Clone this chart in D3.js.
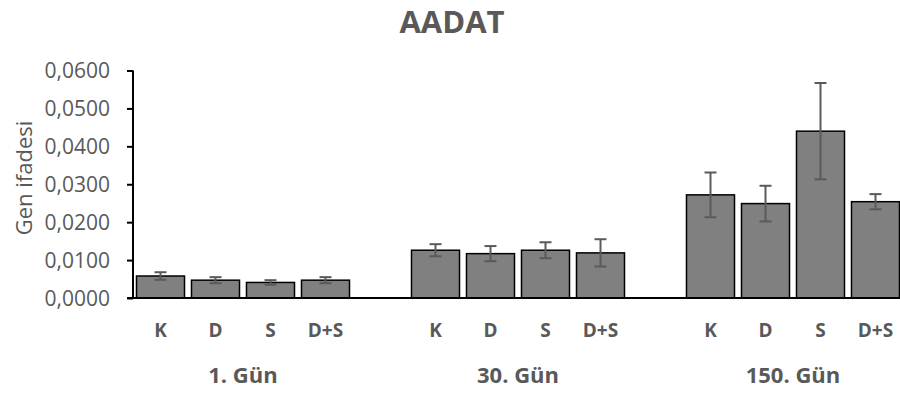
<!DOCTYPE html>
<html>
<head>
<meta charset="utf-8">
<script src="https://cdn.jsdelivr.net/npm/d3@7"></script>
<style>
  body { margin: 0; background: #fff; }
  text { font-family: "Open Sans", sans-serif; fill: #595959; }
</style>
</head>
<body>
<div id="chart"></div>
<script>
// data
var groups = ["1. Gün", "30. Gün", "150. Gün"];
var treatments = ["K", "D", "S", "D+S"];
var means = [
    [0.0058, 0.0047, 0.0041, 0.0047],
    [0.0126, 0.0117, 0.0126, 0.0119],
    [0.0272, 0.0249, 0.0440, 0.0254]
];
var errors = [
    [0.0010, 0.0008, 0.0006, 0.0008],
    [0.0016, 0.0020, 0.0021, 0.0036],
    [0.0059, 0.0047, 0.0127, 0.0020]
];
var yTicks = [0, 0.01, 0.02, 0.03, 0.04, 0.05, 0.06];

var svgWidth = 900, svgHeight = 394;
var margin = {top: 70.5, right: -3, bottom: 96, left: 133};
var width = svgWidth - margin.left - margin.right;
var height = svgHeight - margin.top - margin.bottom;

var svg = d3.select("#chart").append("svg")
    .attr("width", svgWidth)
    .attr("height", svgHeight)
    .style("display", "block");

var chartGroup = svg.append("g")
    .attr("transform", `translate(${margin.left}, ${margin.top})`);

// flatten into slots, one empty slot between groups (like Excel blank rows)
var rows = [];
groups.forEach((g, gi) => {
    treatments.forEach((t, ti) => {
        rows.push({slot: gi * 5 + ti, group: g, gi: gi, label: t,
                   value: means[gi][ti], err: errors[gi][ti]});
    });
});
var slots = d3.range(14);

var xScale = d3.scaleBand()
    .domain(slots)
    .range([0, width])
    .paddingInner(0.127)
    .paddingOuter(0.0635);
var yScale = d3.scaleLinear()
    .domain([0, 0.06])
    .range([height, 0]);

// y axis
var leftAxis = d3.axisLeft(yScale)
    .tickValues(yTicks)
    .tickSize(6)
    .tickPadding(17)
    .tickFormat(d => d3.format(".4f")(d).replace(".", ","));
var yAxisG = chartGroup.append("g").call(leftAxis);
yAxisG.select(".domain").remove();
yAxisG.append("line")
    .attr("x1", 0).attr("x2", 0)
    .attr("y1", 0).attr("y2", height)
    .attr("stroke", "#000").attr("stroke-width", 2);
yAxisG.selectAll(".tick line").attr("stroke", "#000").attr("stroke-width", 2);
yAxisG.selectAll(".tick text")
    .style("font-size", "21px")
    .attr("dy", "0.35em")
    .attr("fill", "#595959");

// bars
chartGroup.selectAll("rect.bar")
    .data(rows)
    .enter()
    .append("rect")
    .attr("class", "bar")
    .attr("x", d => xScale(d.slot))
    .attr("y", d => yScale(d.value))
    .attr("width", xScale.bandwidth())
    .attr("height", d => height - yScale(d.value))
    .attr("fill", "#808080")
    .attr("stroke", "#000")
    .attr("stroke-width", 1.5);

// error bars
var errG = chartGroup.selectAll("g.err")
    .data(rows)
    .enter()
    .append("g")
    .attr("class", "err")
    .attr("stroke", "#5a5a5a")
    .attr("stroke-width", 2);
errG.append("line")
    .attr("x1", d => xScale(d.slot) + xScale.bandwidth() / 2)
    .attr("x2", d => xScale(d.slot) + xScale.bandwidth() / 2)
    .attr("y1", d => yScale(d.value + d.err))
    .attr("y2", d => yScale(d.value - d.err));
errG.append("line")
    .attr("x1", d => xScale(d.slot) + xScale.bandwidth() / 2 - 6)
    .attr("x2", d => xScale(d.slot) + xScale.bandwidth() / 2 + 6)
    .attr("y1", d => yScale(d.value + d.err))
    .attr("y2", d => yScale(d.value + d.err));
errG.append("line")
    .attr("x1", d => xScale(d.slot) + xScale.bandwidth() / 2 - 6)
    .attr("x2", d => xScale(d.slot) + xScale.bandwidth() / 2 + 6)
    .attr("y1", d => yScale(d.value - d.err))
    .attr("y2", d => yScale(d.value - d.err));

// x axis line (extends to the left tick)
chartGroup.append("line")
    .attr("x1", -6).attr("x2", width)
    .attr("y1", height).attr("y2", height)
    .attr("stroke", "#000").attr("stroke-width", 2);

// treatment labels
chartGroup.selectAll("text.cat")
    .data(rows)
    .enter()
    .append("text")
    .attr("class", "cat")
    .attr("x", d => xScale(d.slot) + xScale.bandwidth() / 2)
    .attr("y", height + 39)
    .attr("text-anchor", "middle")
    .style("font-size", "19px")
    .style("font-weight", "bold")
    .text(d => d.label);

// group labels
chartGroup.selectAll("text.grp")
    .data(groups)
    .enter()
    .append("text")
    .attr("class", "grp")
    .attr("x", (d, i) => (xScale(i * 5) + xScale(i * 5 + 3) + xScale.bandwidth()) / 2)
    .attr("y", height + 85)
    .attr("text-anchor", "middle")
    .style("font-size", "22px")
    .style("font-weight", "bold")
    .text(d => d);

// y axis title
svg.append("text")
    .attr("transform", "translate(32, 178) rotate(-90)")
    .attr("text-anchor", "middle")
    .style("font-size", "22px")
    .text("Gen ifadesi");

// chart title
svg.append("text")
    .attr("x", 452)
    .attr("y", 33)
    .attr("text-anchor", "middle")
    .style("font-size", "31px")
    .style("font-weight", "bold")
    .text("AADAT");
</script>
</body>
</html>
